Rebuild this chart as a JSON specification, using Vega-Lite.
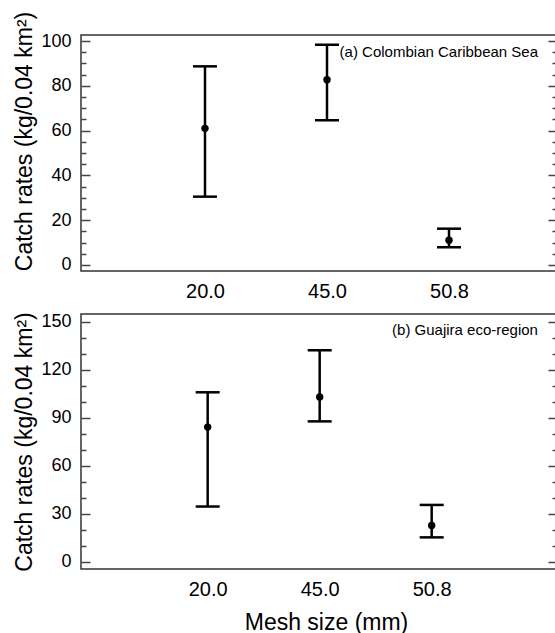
{
  "$schema": "https://vega.github.io/schema/vega-lite/v6.json",
  "padding": {"top": 10, "left": 12, "right": 0, "bottom": 0},
  "bounds": "flush",
  "spacing": 43,
  "config": {
    "font": "Liberation Sans",
    "view": {"stroke": "#333", "strokeWidth": 1.5},
    "axis": {"grid": false, "domain": false, "labelColor": "black", "titleColor": "black", "tickColor": "#444", "tickWidth": 1.5, "titleFontWeight": "normal"}
  },
  "datasets": {
    "a": [
      {"mesh": "20.0", "idx": 1, "mean": 61.0, "lo": 30.5, "hi": 88.7},
      {"mesh": "45.0", "idx": 2, "mean": 82.7, "lo": 64.6, "hi": 98.3},
      {"mesh": "50.8", "idx": 3, "mean": 11.0, "lo": 7.9, "hi": 16.2}
    ],
    "b": [
      {"mesh": "20.0", "idx": 1, "mean": 84.2, "lo": 34.5, "hi": 106.0},
      {"mesh": "45.0", "idx": 2, "mean": 103.0, "lo": 87.8, "hi": 132.3},
      {"mesh": "50.8", "idx": 3, "mean": 22.6, "lo": 15.2, "hi": 35.5}
    ]
  },
  "vconcat": [
    {
      "width": 475,
      "height": 236,
      "data": {"name": "a"},
      "layer": [
        {
          "mark": {"type": "rule", "strokeWidth": 2.5, "color": "black"},
          "encoding": {
            "x": {"field": "idx", "type": "quantitative", "scale": {"domain": [-0.0164, 3.877], "nice": false, "zero": false},
              "axis": {"values": [1, 2, 3], "labelExpr": "datum.value == 1 ? '20.0' : datum.value == 2 ? '45.0' : '50.8'", "ticks": false, "labelFontSize": 20, "labelPadding": 10, "title": null}},
            "y": {"field": "lo", "type": "quantitative", "scale": {"domain": [-2.7, 102.7], "nice": false, "zero": false},
              "axis": {"orient": "left", "values": [0,5,10,15,20,25,30,35,40,45,50,55,60,65,70,75,80,85,90,95,100],
                "labelExpr": "datum.value % 20 === 0 ? datum.label : ''",
                "tickSize": {"condition": {"test": "datum.value % 20 === 0", "value": -9}, "value": -5},
                "labelPadding": 19, "labelFontSize": 18,
                "title": "Catch rates (kg/0.04 km²)", "titleFontSize": 23, "titleX": -45, "titleY": 106, "titleBaseline": "bottom", "titleAngle": -90}},
            "y2": {"field": "hi"}
          }
        },
        {
          "mark": {"type": "tick", "orient": "horizontal", "size": 24, "thickness": 2.5, "color": "black", "opacity": 1},
          "encoding": {"x": {"field": "idx", "type": "quantitative"}, "y": {"field": "hi", "type": "quantitative", "axis": null}}
        },
        {
          "mark": {"type": "tick", "orient": "horizontal", "size": 24, "thickness": 2.5, "color": "black", "opacity": 1},
          "encoding": {"x": {"field": "idx", "type": "quantitative"}, "y": {"field": "lo", "type": "quantitative", "axis": null}}
        },
        {
          "mark": {"type": "circle", "size": 55, "color": "black", "opacity": 1},
          "encoding": {
            "x": {"field": "idx", "type": "quantitative"},
            "y": {"field": "mean", "type": "quantitative",
              "axis": {"orient": "right", "values": [0,5,10,15,20,25,30,35,40,45,50,55,60,65,70,75,80,85,90,95,100], "labels": false,
                "tickSize": {"condition": {"test": "datum.value % 20 === 0", "value": -8}, "value": -4}, "title": null}}
          }
        },
        {
          "data": {"values": [{"label": "(a) Colombian Caribbean Sea"}]},
          "mark": {"type": "text", "align": "right", "baseline": "middle", "fontSize": 15, "fontWeight": "normal", "color": "black"},
          "encoding": {"x": {"datum": 3.73, "type": "quantitative"}, "y": {"datum": 95.0, "type": "quantitative", "axis": null}, "text": {"field": "label"}}
        }
      ],
      "resolve": {"axis": {"y": "independent"}}
    },
    {
      "width": 475,
      "height": 255,
      "data": {"name": "b"},
      "layer": [
        {
          "mark": {"type": "rule", "strokeWidth": 2.5, "color": "black"},
          "encoding": {
            "x": {"field": "idx", "type": "quantitative", "scale": {"domain": [-0.131, 4.11], "nice": false, "zero": false},
              "axis": {"values": [1, 2, 3], "labelExpr": "datum.value == 1 ? '20.0' : datum.value == 2 ? '45.0' : '50.8'", "ticks": false, "labelFontSize": 20, "labelPadding": 10,
                "title": "Mesh size (mm)", "titleFontSize": 23, "titlePadding": 12, "titleX": 245}},
            "y": {"field": "lo", "type": "quantitative", "scale": {"domain": [-4.6, 155], "nice": false, "zero": false},
              "axis": {"orient": "left", "values": [0,10,20,30,40,50,60,70,80,90,100,110,120,130,140,150],
                "labelExpr": "datum.value % 30 === 0 ? datum.label : ''",
                "tickSize": {"condition": {"test": "datum.value % 30 === 0", "value": -9}, "value": -5},
                "labelPadding": 19, "labelFontSize": 18,
                "title": "Catch rates (kg/0.04 km²)", "titleFontSize": 23, "titleX": -45, "titleY": 127.5, "titleBaseline": "bottom", "titleAngle": -90}},
            "y2": {"field": "hi"}
          }
        },
        {
          "mark": {"type": "tick", "orient": "horizontal", "size": 24, "thickness": 2.5, "color": "black", "opacity": 1},
          "encoding": {"x": {"field": "idx", "type": "quantitative"}, "y": {"field": "hi", "type": "quantitative", "axis": null}}
        },
        {
          "mark": {"type": "tick", "orient": "horizontal", "size": 24, "thickness": 2.5, "color": "black", "opacity": 1},
          "encoding": {"x": {"field": "idx", "type": "quantitative"}, "y": {"field": "lo", "type": "quantitative", "axis": null}}
        },
        {
          "mark": {"type": "circle", "size": 55, "color": "black", "opacity": 1},
          "encoding": {
            "x": {"field": "idx", "type": "quantitative"},
            "y": {"field": "mean", "type": "quantitative",
              "axis": {"orient": "right", "values": [0,10,20,30,40,50,60,70,80,90,100,110,120,130,140,150], "labels": false,
                "tickSize": {"condition": {"test": "datum.value % 30 === 0", "value": -8}, "value": -4}, "title": null}}
          }
        },
        {
          "data": {"values": [{"label": "(b) Guajira eco-region"}]},
          "mark": {"type": "text", "align": "right", "baseline": "middle", "fontSize": 15, "fontWeight": "normal", "color": "black"},
          "encoding": {"x": {"datum": 3.949, "type": "quantitative"}, "y": {"datum": 145.2, "type": "quantitative", "axis": null}, "text": {"field": "label"}}
        }
      ],
      "resolve": {"axis": {"y": "independent"}}
    }
  ]
}
